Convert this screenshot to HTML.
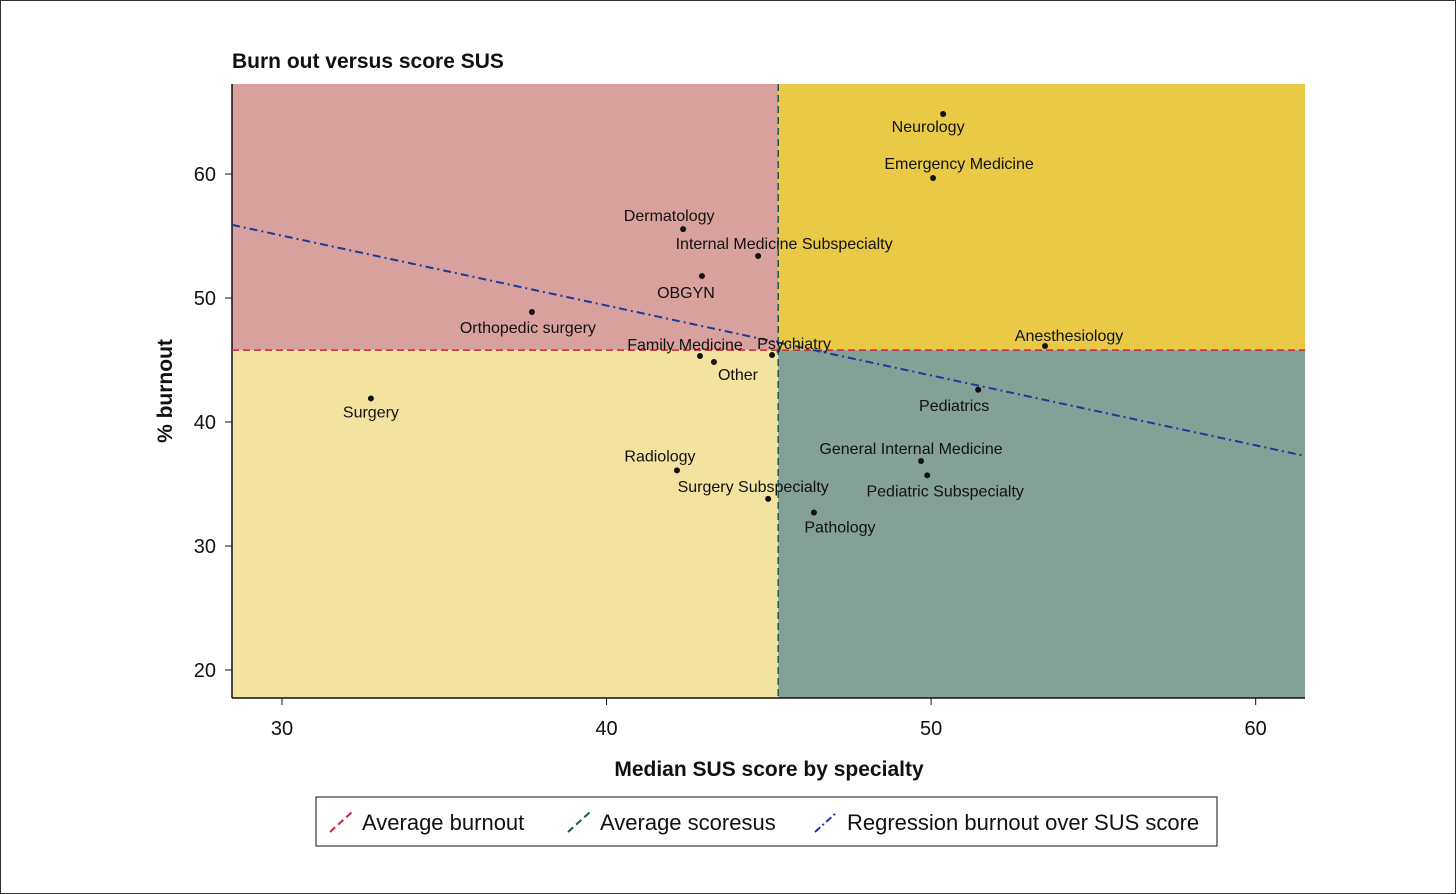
<!DOCTYPE html>
<html><head><meta charset="utf-8"><style>
html,body{margin:0;padding:0;background:#fff}
svg{display:block;font-family:"Liberation Sans","DejaVu Sans",sans-serif}
</style></head><body>
<svg id="chart" width="1456" height="894" viewBox="0 0 1456 894">
<rect x="0.5" y="0.5" width="1455" height="893" fill="#fff" stroke="#333"/>
<text x="232" y="68" font-size="21" font-weight="bold" fill="#111">Burn out versus score SUS</text>
<g id="plot"></g>
<text x="769" y="776" text-anchor="middle" font-size="21" font-weight="bold" fill="#111">Median SUS score by specialty</text>
<text transform="translate(172,391) rotate(-90)" text-anchor="middle" font-size="21" font-weight="bold" fill="#111">% burnout</text>
<g>
<rect x="316" y="797" width="901" height="49" fill="#fff" stroke="#111"/>
<g><line x1="330" y1="832" x2="352" y2="812" stroke="#c8283c" stroke-width="2" stroke-dasharray="7,4"/><text x="362" y="830" font-size="22" fill="#111">Average burnout</text></g>
<g><line x1="568" y1="832" x2="590" y2="812" stroke="#1d5a45" stroke-width="2" stroke-dasharray="7,4"/><text x="600" y="830" font-size="22" fill="#111">Average scoresus</text></g>
<g><line x1="815" y1="832" x2="837" y2="812" stroke="#1a3a9a" stroke-width="2" stroke-dasharray="7,3,2,3"/><text x="847" y="830" font-size="22" fill="#111">Regression burnout over SUS score</text></g>
</g>
</svg>
<script>
const specialties=["Neurology","Emergency Medicine","Dermatology","Internal Medicine Subspecialty","OBGYN","Orthopedic surgery","Family Medicine","Other","Psychiatry","Anesthesiology","Surgery","Pediatrics","General Internal Medicine","Pediatric Subspecialty","Radiology","Surgery Subspecialty","Pathology"];
const susScores=[50.37,50.06,42.36,44.67,42.94,37.70,42.88,43.31,45.10,53.51,32.74,51.45,49.69,49.88,42.17,44.98,46.39];
const burnout=[64.84,59.68,55.56,53.39,51.77,48.87,45.32,44.84,45.4,46.13,41.9,42.6,36.85,35.7,36.1,33.8,32.7];
const xTicks=[30,40,50,60];
const yTicks=[20,30,40,50,60];
const avgBurnout=45.8;
const avgSus=45.29;
const regStart=[28.46,55.9];
const regEnd=[61.52,37.26];
// label offsets (style)
const lblDx=[-15,26,-14,26,-16,-4,-15,24,22,24,0,-24,-10,18,-17,-15,26];
const lblDy=[12,-15,-14,-13,16,15,-12,12,-12,-11,13,15,-13,15,-15,-13,14];
const X0=28.46,X1=61.52,Y0=17.74,Y1=67.26,L=232,R=1305,T=84,B=698;
const sx=v=>L+(v-X0)/(X1-X0)*(R-L);
const sy=v=>B-(v-Y0)/(Y1-Y0)*(B-T);
const NS="http://www.w3.org/2000/svg";
const g=document.getElementById('plot');
function mk(tag,attrs,parent){const e=document.createElementNS(NS,tag);for(const k in attrs)e.setAttribute(k,attrs[k]);(parent||g).appendChild(e);return e;}
const ax=sx(avgSus),ay=sy(avgBurnout);
let r;
r=mk('rect',{x:L,y:T,width:ax-L,height:ay-T,fill:'#d9a19d'});


r=mk('rect',{x:ax,y:T,width:R-ax,height:ay-T,fill:'#e9c945'});


r=mk('rect',{x:L,y:ay,width:ax-L,height:B-ay,fill:'#f2e3a1'});


r=mk('rect',{x:ax,y:ay,width:R-ax,height:B-ay,fill:'#85a096'});


// axes
r=mk('line',{x1:L,y1:T,x2:L,y2:B,stroke:'#111','stroke-width':1.5});


r=mk('line',{x1:L,y1:B,x2:R,y2:B,stroke:'#111','stroke-width':1.5});


xTicks.forEach(t=>{const x=sx(t);
 mk('line',{x1:x,y1:B,x2:x,y2:B+7,stroke:'#111'});
 const e=mk('text',{x:x,y:B+37,'text-anchor':'middle','font-size':20,fill:'#111'});e.textContent=t;
 
 });
yTicks.forEach(t=>{const y=sy(t);
 mk('line',{x1:L-7,y1:y,x2:L,y2:y,stroke:'#111'});
 const e=mk('text',{x:L-16,y:y+7,'text-anchor':'end','font-size':20,fill:'#111'});e.textContent=t;
 
 });
r=mk('line',{x1:L,y1:ay,x2:R,y2:ay,stroke:'#c8283c','stroke-width':1.5,'stroke-dasharray':'7,4'});


r=mk('line',{x1:ax,y1:T,x2:ax,y2:B,stroke:'#1d5a45','stroke-width':1.5,'stroke-dasharray':'7,4'});


r=mk('line',{x1:sx(regStart[0]),y1:sy(regStart[1]),x2:sx(regEnd[0]),y2:sy(regEnd[1]),stroke:'#1a3a9a','stroke-width':2,'stroke-dasharray':'8,4,2,4'});


specialties.forEach((s,i)=>{const x=sx(susScores[i]),y=sy(burnout[i]);
 const c=mk('circle',{cx:x,cy:y,r:3,fill:'#111'});
 
 
 const t=mk('text',{x:x+lblDx[i],y:y+lblDy[i]+6,'text-anchor':'middle','font-size':16,fill:'#111'});t.textContent=s;
 
 });
</script>
</body></html>
